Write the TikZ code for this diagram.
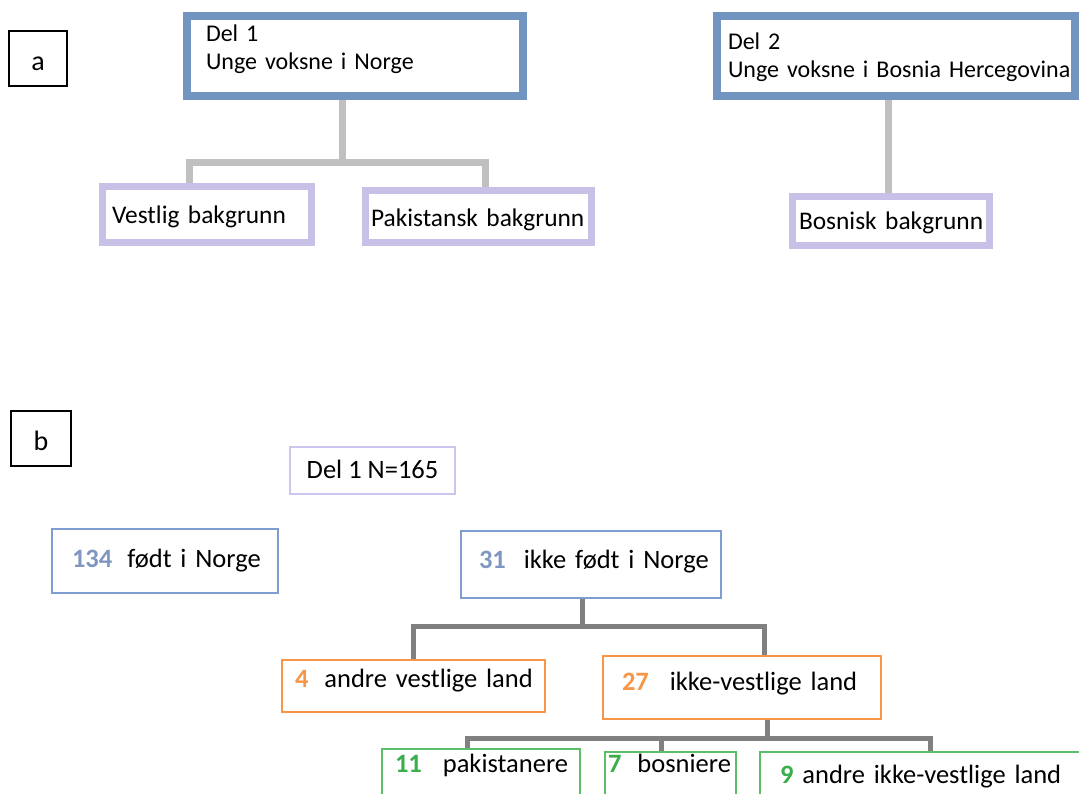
\documentclass[tikz,border=0pt]{standalone}
\usepackage{fontspec}
\setmainfont{Carlito}

\definecolor{delblue}{HTML}{7194C1}
\definecolor{lavender}{HTML}{C8C0E6}
\definecolor{palelav}{HTML}{CCC6EE}
\definecolor{linkgray}{HTML}{C0C0C0}
\definecolor{linkdark}{HTML}{808080}
\definecolor{boxblue}{HTML}{7F9DD0}
\definecolor{numblue}{HTML}{7F97C0}
\definecolor{boxorange}{HTML}{F79646}
\definecolor{boxgreen}{HTML}{5BBF6A}
\definecolor{numgreen}{HTML}{3AAE4A}

\newcommand{\cnt}[4]{\mbox{\textcolor{#1}{\textbf{#2}}\hspace{#3}#4}}

\begin{document}
\begin{tikzpicture}[x=1pt, y=-1pt,
    tag/.style={draw=black, line width=1.3pt, inner sep=0pt, font=\fontsize{28}{32}\selectfont, text depth=0pt},
    delbox/.style={draw=delblue, line width=8pt, inner ysep=0pt, align=left, minimum height=80pt, font=\fontsize{24}{28}\selectfont, text height=0pt},
    bakbox/.style={draw=lavender, line width=7pt, inner ysep=0pt, align=left, font=\fontsize{25.4}{30}\selectfont, text depth=0pt},
    numbox/.style={draw=#1, line width=1.6pt, inner ysep=0pt, align=left, font=\fontsize{26.5}{31}\selectfont},
    graylink/.style={draw=linkgray, line width=7pt},
    darklink/.style={draw=linkdark, line width=5pt}]
    \useasboundingbox (0,0) rectangle (1079,793);

    % a
    \node[tag, minimum width=58pt, minimum height=55pt, text height=23pt] (alab) at (38,58.5) {a};
    \node[delbox, text width=298pt, inner xsep=19pt, text depth=30pt] (del1) at (355,56) {\mbox{Del 1}\\\mbox{Unge voksne i Norge}};
    \node[delbox, text width=336pt, inner xsep=11pt, text depth=14pt] (del2) at (896,56) {\mbox{Del 2}\\\mbox{Unge voksne i Bosnia Hercegovina}};
    \node[bakbox, text width=190pt, inner xsep=9.5pt, minimum height=56pt, text height=17pt] (vestlig) at (207,214.5) {\mbox{Vestlig bakgrunn}};
    \node[bakbox, text width=215pt, inner xsep=5.5pt, minimum height=52pt, text height=19pt] (pakistansk) at (478.5,216.5) {\mbox{Pakistansk bakgrunn}};
    \node[bakbox, text width=184pt, inner xsep=6.5pt, minimum height=49pt, text height=16pt] (bosnisk) at (891,221) {\mbox{Bosnisk bakgrunn}};

    \draw[graylink] ([xshift=-13pt]del1.south) -- ++(0,62) -| ([xshift=-18pt]vestlig.north);
    \draw[graylink] ([xshift=-13pt]del1.south) -- ++(0,62) -| ([xshift=6.5pt]pakistansk.north);
    \draw[graylink] ([xshift=-8pt]del2.south) -- ([xshift=-8pt]del2.south |- bosnisk.north);

    % b
    \node[tag, minimum width=60pt, minimum height=55pt, text height=23pt] (blab) at (41,438.5) {b};
    \node[draw=palelav, line width=2pt, inner sep=0pt, minimum width=165pt, minimum height=47pt, font=\fontsize{26.5}{31}\selectfont, text height=15pt, text depth=0pt] (total) at (372.5,470.5) {Del 1 N=165};
    \node[numbox=boxblue, text width=186pt, inner xsep=20pt, minimum height=64pt, text height=12pt, text depth=0pt] (born) at (165,561) {\cnt{numblue}{134}{15pt}{født i Norge}};
    \node[numbox=boxblue, text width=224pt, inner xsep=18pt, minimum height=67pt, text height=7pt, text depth=0pt] (notborn) at (591,564.5) {\cnt{numblue}{31}{18pt}{ikke født i Norge}};
    \node[numbox=boxorange, text width=237pt, inner xsep=13pt, minimum height=52pt, text height=2pt, text depth=0pt] (western) at (413.5,686) {\cnt{boxorange}{4}{16pt}{andre vestlige land}};
    \node[numbox=boxorange, text width=240pt, inner xsep=19pt, minimum height=63pt, text height=5pt, text depth=0pt] (nonwestern) at (742,687.5) {\cnt{boxorange}{27}{21pt}{ikke-vestlige land}};
    \node[numbox=boxgreen, text width=172pt, inner xsep=13pt, minimum height=71pt, text height=0pt, text depth=25pt] (pak) at (481,784.5) {\cnt{numgreen}{11}{21pt}{pakistanere}};
    \node[numbox=boxgreen, text width=125pt, inner xsep=3pt, minimum height=68pt, text height=0pt, text depth=28pt] (bos) at (670.5,786) {\cnt{numgreen}{7}{16pt}{bosniere}};
    \node[numbox=boxgreen, text width=285pt, inner xsep=20pt, minimum height=68pt, text height=0pt, text depth=6pt] (other) at (922.5,786) {\cnt{numgreen}{9}{9pt}{andre ikke-vestlige land}};

    \draw[darklink] ([xshift=-9pt]notborn.south) -- ++(0,28) -| (western.north);
    \draw[darklink] ([xshift=-9pt]notborn.south) -- ++(0,28) -| ([xshift=22pt]nonwestern.north);
    \draw[darklink] ([xshift=25pt]nonwestern.south) -- ++(0,19) -| ([xshift=-14pt]pak.north);
    \draw[darklink] ([xshift=25pt]nonwestern.south) -- ++(0,19) -| ([xshift=-9.5pt]bos.north);
    \draw[darklink] ([xshift=25pt]nonwestern.south) -- ++(0,19) -| ([xshift=7.5pt]other.north);
\end{tikzpicture}
\end{document}
